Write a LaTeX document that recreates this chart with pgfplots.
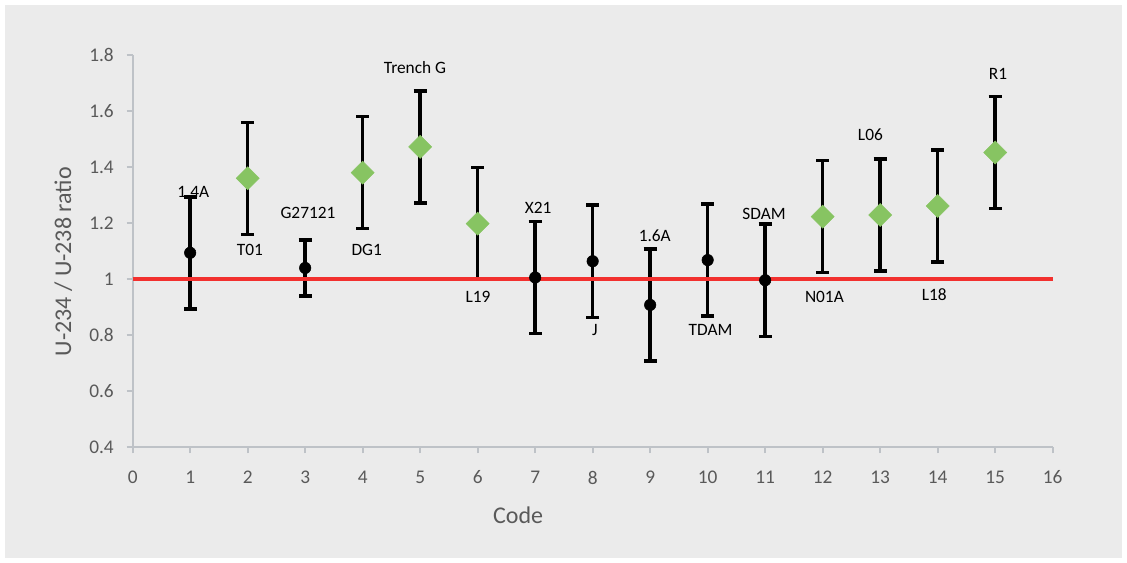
\documentclass[border=0pt]{standalone}
\usepackage{fontspec}
\setmainfont{Carlito}
\usepackage{pgfplots}
\pgfplotsset{compat=1.18}

\definecolor{panel}{RGB}{235,235,235}
\definecolor{axisgray}{RGB}{190,194,199}
\definecolor{txtgray}{RGB}{89,89,89}
\definecolor{leafgreen}{RGB}{135,196,98}
\definecolor{refred}{RGB}{242,48,46}

\begin{document}
\begin{tikzpicture}
% background panel
\fill[white] (0,0) rectangle (845.25pt,422.25pt);
\fill[panel] (3.75pt,3.75pt) rectangle (841.5pt,418.5pt);

\begin{axis}[
  at={(99.5pt,86.8pt)}, anchor=south west,
  scale only axis, width=690pt, height=294.2pt,
  xmin=0, xmax=16, ymin=0.4, ymax=1.8,
  xtick={0,1,...,16},
  ytick={0.4,0.6,0.8,1,1.2,1.4,1.6,1.8},
  axis x line*=bottom, axis y line*=left,
  axis line style={axisgray, line width=1.3pt},
  tick style={axisgray, line width=1.3pt},
  tick align=outside, major tick length=4.5pt,
  /pgf/number format/assume math mode=true,
  ticklabel style={font=\fontsize{14.5}{17}\selectfont, text=txtgray, inner sep=0pt},
  xticklabel style={anchor=north, yshift=-13pt},
  yticklabel style={anchor=east, xshift=-9.5pt},
  xlabel={Code},
  ylabel={U-234 / U-238 ratio},
  label style={font=\fontsize{18}{21}\selectfont, text=txtgray},
  xlabel style={at={(axis description cs:0.419,-0.1726)}, anchor=center},
  ylabel style={at={(axis description cs:-0.0754,0.473)}, anchor=center},
  clip=false,
  error bars/y dir=both, error bars/y explicit,
  error bars/error mark=|,
  error bars/error bar style={black, line width=2.6pt},
  error bars/error mark options={black, line width=2.6pt, mark size=4.9pt},
]

% samples with ratio near secular equilibrium
\addplot[only marks, mark=*, mark size=4.3pt, black] coordinates {
  (1,1.094)  +- (0,0.2)
  (3,1.040)  +- (0,0.1)
  (7,1.006)  +- (0,0.2)
  (8,1.064)  +- (0,0.2)
  (9,0.908)  +- (0,0.2)
  (10,1.068) +- (0,0.2)
  (11,0.996) +- (0,0.2)
};

% samples with elevated ratio
\addplot[only marks, mark=square*, mark size=6.1pt, leafgreen,
         mark options={rotate=45, draw=leafgreen, fill=leafgreen}] coordinates {
  (2,1.360)  +- (0,0.2)
  (4,1.380)  +- (0,0.2)
  (5,1.472)  +- (0,0.2)
  (6,1.198)  +- (0,0.2)
  (12,1.223) +- (0,0.2)
  (13,1.229) +- (0,0.2)
  (14,1.261) +- (0,0.2)
  (15,1.452) +- (0,0.2)
};

% equilibrium ratio
\addplot[refred, line width=2.6pt] coordinates {(0,1) (16,1)};

% sample codes
\begin{scope}[every node/.style={font=\fontsize{13}{15}\selectfont, text=black, inner sep=0pt}]
\node at (axis cs:1.054,1.312) {1.4A};
\node at (axis cs:2.040,1.104) {T01};
\node at (axis cs:3.049,1.237) {G27121};
\node at (axis cs:4.070,1.104) {DG1};
\node at (axis cs:4.910,1.755) {Trench G};
\node at (axis cs:6.005,0.936) {L19};
\node at (axis cs:7.050,1.256) {X21};
\node at (axis cs:8.040,0.818) {J};
\node at (axis cs:9.080,1.154) {1.6A};
\node at (axis cs:10.050,0.820) {TDAM};
\node at (axis cs:10.980,1.231) {SDAM};
\node at (axis cs:12.030,0.935) {N01A};
\node at (axis cs:12.830,1.514) {L06};
\node at (axis cs:13.940,0.943) {L18};
\node at (axis cs:15.050,1.731) {R1};
\end{scope}
\end{axis}
\end{tikzpicture}
\end{document}
